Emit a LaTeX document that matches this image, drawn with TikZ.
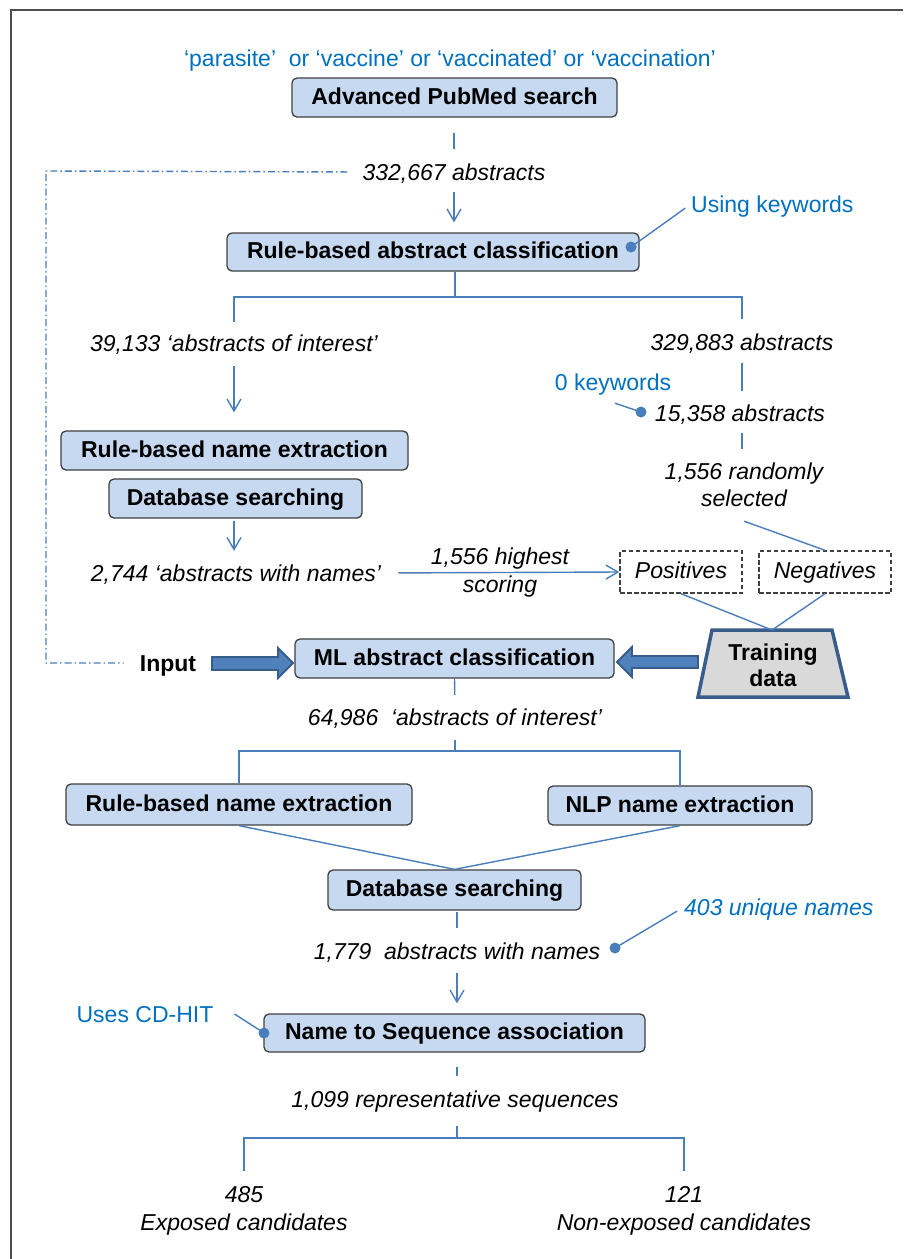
\documentclass[tikz,border=0pt]{standalone}
\usepackage{fontspec}
\setmainfont{Liberation Sans}
\usetikzlibrary{arrows.meta,calc}
\definecolor{lineblue}{HTML}{4A7EBB}
\definecolor{textblue}{HTML}{0070C0}
\definecolor{boxfill}{HTML}{C6D9F1}
\definecolor{boxline}{HTML}{404040}
\definecolor{trapfill}{HTML}{D9D9D9}
\definecolor{darkblue}{HTML}{385D8A}
\definecolor{arrowfill}{HTML}{4F81BD}
\definecolor{framegray}{HTML}{4D4D4D}
\tikzset{
  box/.style={draw=boxline, fill=boxfill, rounded corners=5pt, line width=1.3pt,
    font=\bfseries\fontsize{23}{27}\selectfont, inner sep=0pt, text height=17pt,
    text depth=4pt, minimum height=39pt},
  lbl/.style={font=\itshape\fontsize{23}{28}\selectfont, inner sep=0pt,
    text height=18pt, text depth=2pt},
  mlbl/.style={font=\itshape\fontsize{23}{28}\selectfont, inner sep=0pt, align=center},
  note/.style={font=\fontsize{23}{28}\selectfont, text=textblue, inner sep=0pt,
    text height=18pt, text depth=2pt},
  boldlbl/.style={font=\bfseries\fontsize{23}{26}\selectfont, inner sep=0pt, align=center},
  dbox/.style={draw=boxline, line width=1.4pt, dash pattern=on 4.5pt off 2.5pt,
    font=\itshape\fontsize{23}{28}\selectfont, inner sep=0pt, text height=17pt,
    text depth=4pt, minimum height=42pt},
  conn/.style={draw=lineblue, line width=1.4pt},
  arr/.style={conn, -{Straight Barb[length=12pt,width=14pt]}},
  ddline/.style={draw=lineblue, line width=1.4pt, dash pattern=on 7pt off 3pt on 1.5pt off 3pt},
  blockarrow/.style={fill=arrowfill, draw=darkblue, line width=1.8pt},
  dotmark/.style={fill=lineblue}
}
\begin{document}
\begin{tikzpicture}[x=1pt,y=-1pt]
\useasboundingbox (0,0) rectangle (903,1259);
\fill[white] (0,0) rectangle (903,1259);
\draw[framegray, line width=2pt] (10.5,1259) -- (10.5,10) -- (903,10);

% nodes
\node[note] (query) at (450,58) {‘parasite’\ \ or ‘vaccine’ or ‘vaccinated’ or ‘vaccination’};
\node[box, minimum width=325pt] (adv) at (454.5,97.5) {Advanced PubMed search};
\node[lbl] (t332) at (454,172) {332,667 abstracts};
\node[box, minimum width=412pt, minimum height=38pt] (rbac) at (433,252) {Rule-based abstract classification};
\node[note, anchor=west] (usingkw) at (691,204) {Using keywords};
\node[lbl] (t39) at (234,343) {39,133 ‘abstracts of interest’};
\node[lbl] (t329) at (742,342) {329,883 abstracts};
\node[note] (kw0) at (613,382) {0 keywords};
\node[lbl] (t15358) at (740,413) {15,358 abstracts};
\node[mlbl, font=\itshape\fontsize{23}{27}\selectfont] (t1556r) at (744,485) {1,556 randomly\\selected};
\node[box, minimum width=347pt] (rbne1) at (234.5,450.5) {Rule-based name extraction};
\node[box, minimum width=253pt] (dbs1) at (235.5,498.5) {Database searching};
\node[lbl] (t2744) at (236,573) {2,744 ‘abstracts with names’};
\node[mlbl] (hs) at (500,573) {1,556 highest\\scoring};
\node[dbox, minimum width=122pt] (pos) at (681,572) {Positives};
\node[dbox, minimum width=132pt] (neg) at (825,572) {Negatives};
\draw[fill=trapfill, draw=darkblue, line width=3.5pt, line join=miter]
  (712,630) -- (832,630) -- (848,697) -- (698,697) -- cycle;
\node[boldlbl] (train) at (773,665) {Training\\data};
\coordinate (traintop) at (772,630);
\node[boldlbl, text height=18pt, text depth=2pt] (input) at (168,663) {Input};
\node[box, minimum width=319pt] (ml) at (454.5,658.5) {ML abstract classification};
\node[lbl] (t64986) at (455,717) {64,986\ \ ‘abstracts of interest’};
\node[box, minimum width=346pt, minimum height=41pt] (rbne2) at (239,804.5) {Rule-based name extraction};
\node[box, minimum width=264pt] (nlp) at (680,805.5) {NLP name extraction};
\node[box, minimum width=253pt, minimum height=40pt] (dbs2) at (454.5,890) {Database searching};
\node[lbl] (t1779) at (457,951) {1,779\ \ abstracts with names};
\node[note, font=\itshape\fontsize{23}{28}\selectfont, anchor=west] (u403) at (684,907) {403 unique names};
\node[note] (usescd) at (145,1014) {Uses CD-HIT};
\node[box, minimum width=381pt, minimum height=38pt] (n2s) at (454.5,1033) {Name to Sequence association};
\node[lbl] (t1099) at (455,1099) {1,099 representative sequences};
\node[mlbl] (t485) at (244,1211) {485\\Exposed candidates};
\node[mlbl] (t121) at (684,1211) {121\\Non-exposed candidates};

% coordinates
\coordinate (br1) at (455,297);
\coordinate (br2) at (455,751);
\coordinate (br3) at (457,1138);
\coordinate (ddA) at (46,171);
\coordinate (ddB) at (46,663);
\coordinate (dot1) at (631,247);
\coordinate (dot2) at (641,412);
\coordinate (dot3) at (615,948);
\coordinate (dot4) at (264,1033);

% connectors
\draw[conn, shorten <=15pt, shorten >=13pt] (adv.south -| t332.north) -- (t332.north);
\draw[arr, shorten <=10pt, shorten >=10pt] (t332.south) -- (t332.south |- rbac.north);
\draw[conn] (rbac.south -| br1) -- (br1);
\draw[conn, shorten >=11pt] (br1) -| (t39.north);
\draw[conn, shorten >=13pt] (br1) -| (t329.north);
\draw[arr, shorten <=13pt, shorten >=18pt] (t39.south) -- (t39.south |- rbne1.north);
\draw[arr, shorten <=2pt, shorten >=12pt] (t39.south |- dbs1.south) -- (t39.south |- t2744.north);
\draw[arr, shorten <=17pt] (t2744.east) -- (pos.west);
\draw[conn, shorten <=11pt, shorten >=12pt] (t329.south) -- (t329.south |- t15358.north);
\draw[conn, shorten <=10pt, shorten >=14pt] (t15358.south -| t329.south) -- (t329.south |- t1556r.north);
\draw[conn] ($(t1556r.south)+(0,14)$) -- (neg.north);
\draw[conn] (pos.south) -- (traintop);
\draw[conn] (neg.south) -- (traintop);
\draw[ddline, shorten <=15pt, shorten >=16pt] (t332.west) -- (ddA) -- (ddB) -- (input.west);

% block arrows
\draw[blockarrow] (212,657) -- (278,657) -- (278,648) -- (293,663) -- (278,678) -- (278,670) -- (212,670) -- cycle;
\draw[blockarrow] (698,656) -- (632,656) -- (632,647) -- (617,662) -- (632,677) -- (632,668) -- (698,668) -- cycle;

\draw[conn, shorten >=12pt] (ml.south) -- (t64986.north);
\draw[conn, shorten <=13pt] (t64986.south) -- (br2);
\draw[conn] (br2) -| (rbne2.north);
\draw[conn] (br2) -| (nlp.north);
\draw[conn] (rbne2.south) -- (dbs2.north);
\draw[conn] (nlp.south) -- (dbs2.north);
\draw[conn, shorten <=1pt, shorten >=13pt] (dbs2.south -| t1779.north) -- (t1779.north);
\draw[arr, shorten <=12pt, shorten >=10pt] (t1779.south) -- (t1779.south |- n2s.north);
\draw[conn, shorten <=14pt, shorten >=13pt] (n2s.south -| t1779.south) -- (t1099.north -| t1779.south);
\draw[conn, shorten <=17pt] (t1099.south -| br3) -- (br3);
\draw[conn, shorten >=15pt] (br3) -| (t485.north);
\draw[conn, shorten >=15pt] (br3) -| (t121.north);

% callout dots
\draw[conn, shorten >=7pt] (dot1) -- (usingkw.west);
\draw[conn] ($(kw0.south)+(2,11)$) -- (dot2);
\draw[conn, shorten >=8pt] (dot3) -- (u403.west);
\draw[conn] ($(usescd.east)+(21,0)$) -- (dot4);
\fill[dotmark] (dot1) circle (5.5pt);
\fill[dotmark] (dot2) circle (5.5pt);
\fill[dotmark] (dot3) circle (5.5pt);
\fill[dotmark] (dot4) circle (5.5pt);
\end{tikzpicture}
\end{document}
